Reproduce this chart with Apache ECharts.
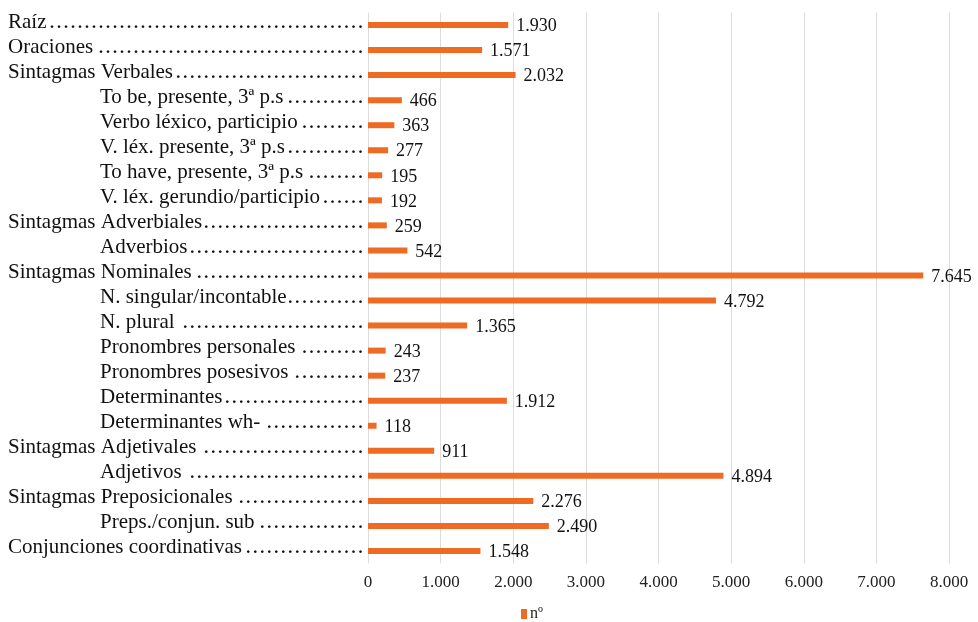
<!DOCTYPE html>
<html>
<head>
<meta charset="utf-8">
<script src="https://cdn.jsdelivr.net/npm/echarts@6/dist/echarts.min.js"></script>
<style>
  html, body { margin: 0; padding: 0; background: #fff; }
  #chart { width: 978px; height: 622px; }
</style>
</head>
<body>
<div id="chart"></div>
<script>
// Category names, top to bottom
const categories = [
  'Raíz', 'Oraciones', 'Sintagmas Verbales',
  'To be, presente, 3ª p.s', 'Verbo léxico, participio', 'V. léx. presente, 3ª p.s',
  'To have, presente, 3ª p.s', 'V. léx. gerundio/participio',
  'Sintagmas Adverbiales', 'Adverbios',
  'Sintagmas Nominales', 'N. singular/incontable', 'N. plural',
  'Pronombres personales', 'Pronombres posesivos', 'Determinantes', 'Determinantes wh-',
  'Sintagmas Adjetivales', 'Adjetivos',
  'Sintagmas Preposicionales', 'Preps./conjun. sub',
  'Conjunciones coordinativas'
];
// 1 = sub-item (indented under its group)
const subItem = [0, 0, 0, 1, 1, 1, 1, 1, 0, 1, 0, 1, 1, 1, 1, 1, 1, 0, 1, 0, 1, 0];
// Counts ("nº")
const counts = [1930, 1571, 2032, 466, 363, 277, 195, 192, 259, 542, 7645, 4792, 1365,
  243, 237, 1912, 118, 911, 4894, 2276, 2490, 1548];
const seriesName = 'nº';
const xTicks = [0, 1000, 2000, 3000, 4000, 5000, 6000, 7000, 8000];

const SERIF = '"Liberation Serif", "DejaVu Serif", serif';
const BAR = '#EF6A22';
const CAT_SIZE = 21;

// Spanish-style thousands separator
function fmt(v) {
  return String(Math.round(v)).replace(/\B(?=(\d{3})+(?!\d))/g, '.');
}

// Dotted leaders: each name is followed by dots that end flush at the axis.
const ctx = document.createElement('canvas').getContext('2d');
ctx.font = CAT_SIZE + 'px ' + SERIF;
const ellW = ctx.measureText('\u2026').width;
const oneW = ctx.measureText('\u2024').width;
// one-dot leader if it has a third of the ellipsis pitch, otherwise ellipses
const useOne = Math.abs(oneW * 3 - ellW) < 1.5;
const DOT = useOne ? '\u2024' : '\u2026';
const dotW = useOne ? oneW : ellW;
const LEAD_TOTAL = 356, INDENT = 92;
const rich = {
  m: { fontFamily: SERIF, fontSize: CAT_SIZE, color: '#111', padding: [0, 0, 6, 0] },
  s: { fontFamily: SERIF, fontSize: CAT_SIZE, color: '#111', padding: [0, 0, 6, INDENT] }
};
const leaderText = categories.map((name, i) => {
  const avail = LEAD_TOTAL - (subItem[i] ? INDENT : 0) - ctx.measureText(name).width;
  const n = Math.max(1, Math.floor(avail / dotW));
  const gap = Math.max(0, avail - n * dotW);
  rich['d' + i] = { fontFamily: SERIF, fontSize: CAT_SIZE, color: '#111', padding: [0, 0, 6, gap] };
  return (subItem[i] ? '{s|' : '{m|') + name + '}{d' + i + '|' + DOT.repeat(n) + '}';
});

const chart = echarts.init(document.getElementById('chart'), null, { renderer: 'canvas' });
chart.setOption({
  animation: false,
  backgroundColor: '#ffffff',
  textStyle: { fontFamily: SERIF },
  grid: { left: 368, right: 29, top: 12.5, bottom: 58.5, containLabel: false },
  legend: {
    left: 516, top: 601,
    itemWidth: 6, itemHeight: 10, itemGap: 4,
    icon: 'rect',
    textStyle: { fontFamily: SERIF, fontSize: 16, color: '#222', padding: [0, 0, 0, -2] },
    data: [seriesName]
  },
  xAxis: {
    type: 'value',
    min: 0, max: 8000, interval: 1000,
    axisLine: { show: false },
    axisTick: { show: false },
    splitLine: { show: true, lineStyle: { color: '#dcdcdc', width: 1 } },
    axisLabel: {
      margin: 11,
      fontFamily: SERIF, fontSize: 17, color: '#222',
      formatter: v => xTicks.includes(v) ? fmt(v) : ''
    }
  },
  yAxis: {
    type: 'category',
    inverse: true,
    data: categories,
    axisLine: { show: false },
    axisTick: { show: false },
    axisLabel: {
      margin: 360,
      align: 'left',
      formatter: (v, i) => leaderText[i],
      rich: rich
    }
  },
  series: [{
    name: seriesName,
    type: 'bar',
    data: counts,
    barWidth: 6,
    itemStyle: { color: BAR },
    label: {
      show: true,
      position: 'right',
      distance: 8,
      offset: [0, 1.5],
      fontFamily: SERIF, fontSize: 18, color: '#111',
      formatter: p => fmt(p.value)
    }
  }]
});
</script>
</body>
</html>
